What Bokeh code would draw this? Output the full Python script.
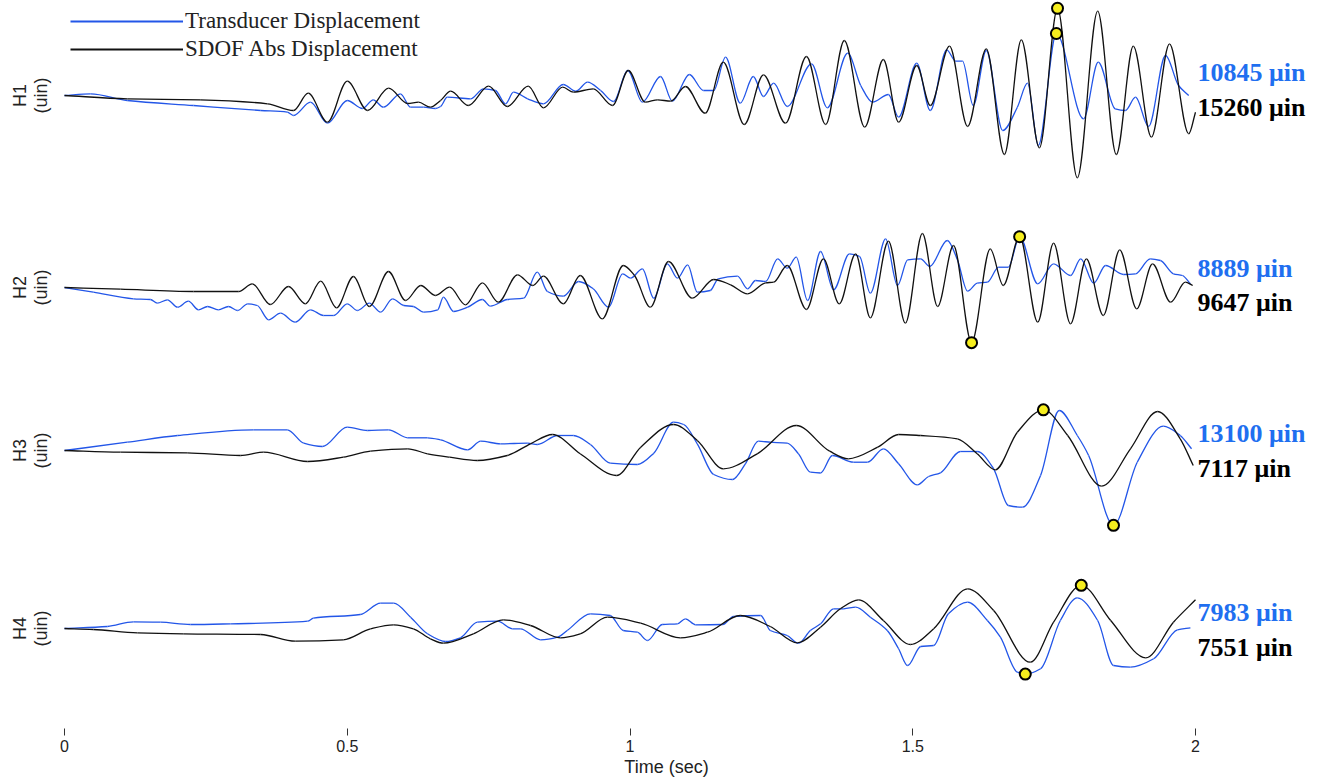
import numpy as np
from bokeh.plotting import figure
from bokeh.models import Range1d, FixedTicker, Legend, LegendItem
from bokeh.core.properties import value
from bokeh.embed import file_html
from bokeh.resources import INLINE

# ---------------- data (time in s, displacement in micro-inch) ----------------
channels = ["H1", "H2", "H3", "H4"]
tick_values = [0, 0.5, 1, 1.5, 2]
tick_labels = ["0", "0.5", "1", "1.5", "2"]

h1_black_t = [0, 0.111, 0.240, 0.359, 0.405, 0.431, 0.465, 0.500, 0.536, 0.573, 0.607, 0.626, 0.647, 0.665, 0.683,
              0.714, 0.750, 0.783, 0.820, 0.847, 0.881, 0.900, 0.935, 0.969, 0.997, 1.027, 1.049, 1.072, 1.098, 1.133,
              1.165, 1.202, 1.236, 1.275, 1.312, 1.346, 1.379, 1.415, 1.448, 1.475, 1.507, 1.531, 1.565, 1.597, 1.630,
              1.662, 1.692, 1.724, 1.756, 1.791, 1.827, 1.860, 1.890, 1.922, 1.954, 1.988, 2.000]
h1_black_v = [0, -580, -750, -1450, -2625, 400, -4670, 2500, -2625, 1280, -1400, -1170, -2050, -875, 750,
              -1750, 1630, -1925, 1630, -2150, 1450, 580, 1170, -1750, 4375, -1170, -750, -1000, 1575, -3100,
              5830, -5075, 3620, -4850, 6825, -5075, 9625, -5550, 6300, -4670, 5250, -1750, 8630, -5425, 8170,
              -10325, 9750, -9150, 15260, -14400, 14750, -10325, 8630, -7300, 9050, -6700, -2920]

h1_blue_t = [0, 0.046, 0.111, 0.228, 0.347, 0.394, 0.405, 0.435, 0.465, 0.500, 0.527, 0.546, 0.564, 0.594, 0.612,
             0.635, 0.656, 0.665, 0.677, 0.718, 0.741, 0.762, 0.780, 0.794, 0.819, 0.847, 0.882, 0.904, 0.925, 0.948,
             0.971, 0.996, 1.022, 1.054, 1.075, 1.105, 1.130, 1.148, 1.169, 1.195, 1.218, 1.236, 1.254, 1.278, 1.321,
             1.349, 1.385, 1.408, 1.429, 1.457, 1.475, 1.507, 1.531, 1.560, 1.576, 1.588, 1.607, 1.630, 1.659, 1.685,
             1.703, 1.722, 1.754, 1.802, 1.828, 1.858, 1.876, 1.894, 1.917, 1.947, 1.970, 1.988]
h1_blue_v = [0, 300, -875, -1750, -2625, -2920, -3500, -1170, -4850, -875, -2275, -750, -2050, 300, -2050,
             -2050, -2275, -1925, -300, -580, 1170, 875, -1450, 580, -580, -1450, 1925, 750, 2330, 875,
             -1050, 4375, -1170, 3325, -1000, 3675, 875, 875, 6700, -1350, 3325, -175, 2150, -1925, 5550,
             -2150, 7400, 1750, -1170, 175, -3800, 5650, -2625, 8000, 6000, 6000, -1750, 7875, -6125, -2050,
             2150, -8750, 10845, -4080, 5830, -2330, -2625, -300, -5425, 7000, 1750, 0]

h2_black_t = [0, 0.099, 0.228, 0.308, 0.332, 0.364, 0.396, 0.426, 0.453, 0.481, 0.511, 0.539, 0.573, 0.603, 0.630,
              0.656, 0.681, 0.709, 0.739, 0.767, 0.801, 0.828, 0.847, 0.882, 0.912, 0.951, 0.988, 1.008, 1.036, 1.068,
              1.110, 1.148, 1.178, 1.208, 1.240, 1.254, 1.278, 1.312, 1.342, 1.370, 1.399, 1.425, 1.457, 1.487, 1.517,
              1.544, 1.572, 1.604, 1.637, 1.660, 1.689, 1.721, 1.749, 1.779, 1.807, 1.837, 1.866, 1.896, 1.924, 1.956,
              1.982, 1.995]
h2_black_v = [0, -300, -700, -700, 650, -2975, 175, -2850, 1100, -3550, 1925, -3325, 2800, -2275, 350,
              -1400, 50, -3030, 825, -2570, 2220, 350, 1980, -2850, 2100, -5480, 3850, 2100, -3450, 4550,
              -1870, 1400, 470, -1100, 825, 930, 3850, -3850, 5020, -2850, 5900, -5300, 8100, -6250, 9450,
              -3325, 7350, -9647, 6770, 350, 8925, -6070, 7750, -6350, 5020, -4900, 6600, -3730, 4150, -2570,
              930, 350]

h2_blue_t = [0, 0.051, 0.122, 0.152, 0.164, 0.182, 0.200, 0.219, 0.237, 0.253, 0.272, 0.290, 0.306, 0.324, 0.341,
             0.361, 0.382, 0.408, 0.435, 0.458, 0.476, 0.500, 0.518, 0.539, 0.559, 0.580, 0.600, 0.617, 0.635, 0.660,
             0.670, 0.688, 0.713, 0.739, 0.753, 0.783, 0.812, 0.836, 0.854, 0.882, 0.909, 0.935, 0.962, 0.987, 1.001,
             1.022, 1.042, 1.066, 1.084, 1.102, 1.119, 1.142, 1.156, 1.190, 1.208, 1.222, 1.240, 1.261, 1.278, 1.294,
             1.314, 1.337, 1.360, 1.388, 1.406, 1.425, 1.452, 1.473, 1.491, 1.514, 1.530, 1.561, 1.579, 1.597, 1.614,
             1.632, 1.652, 1.669, 1.689, 1.721, 1.749, 1.779, 1.797, 1.820, 1.841, 1.873, 1.894, 1.920, 1.938, 1.961,
             1.977, 1.991]
h2_blue_v = [0, -820, -1980, -2100, -2750, -2150, -3450, -2400, -3900, -3325, -3900, -3325, -4025, -2850, -3150,
             -5650, -4500, -6070, -3900, -4900, -4900, -2850, -4025, -2750, -4320, -1980, -3150, -3325, -4320, -3900,
             -1700, -4200, -3450, -2100, -3270, -2100, -1870, 2680, -700, -1520, 1050, -230, -3450, 2400, 1630,
             3270, -1870, 4150, 1630, 3970, -820, -525, 1520, 1980, -230, 1225, 1050, 5020, 3380, 5300,
             -2275, 6300, -400, 5900, 5425, -1000, 8520, 350, 4850, 5020, 3675, 8225, 4850, -650, 750,
             930, 3550, 3550, 8889, 650, 4150, 2100, 5020, 750, 3850, 2275, 2400, 5020, 4725, 2400,
             2100, 650]

h3_black_t = [0, 0.099, 0.217, 0.311, 0.352, 0.430, 0.493, 0.541, 0.607, 0.642, 0.681, 0.730, 0.783, 0.824, 0.863,
              0.912, 0.976, 1.019, 1.077, 1.119, 1.165, 1.225, 1.294, 1.353, 1.386, 1.438, 1.475, 1.514, 1.579, 1.614,
              1.646, 1.685, 1.731, 1.774, 1.834, 1.885, 1.933, 1.973, 1.996]
h3_black_v = [0, -300, -400, -875, -300, -1925, -1170, -120, 300, -580, -1170, -1750, -875, 1170, 2800,
              -580, -4375, 580, 4550, 1750, -3200, -580, 4375, -120, -1450, 580, 2800, 2625, 2050, -580,
              -3380, 3200, 7117, 2625, -6250, 300, 6825, 2050, -2625]

h3_blue_t = [0, 0.111, 0.200, 0.334, 0.394, 0.423, 0.456, 0.500, 0.536, 0.573, 0.607, 0.642, 0.665, 0.713, 0.736,
             0.771, 0.819, 0.836, 0.872, 0.900, 0.930, 0.965, 1.013, 1.042, 1.077, 1.095, 1.119, 1.148, 1.181, 1.204,
             1.227, 1.248, 1.278, 1.298, 1.319, 1.337, 1.358, 1.395, 1.420, 1.448, 1.475, 1.508, 1.528, 1.549, 1.584,
             1.614, 1.643, 1.669, 1.694, 1.726, 1.759, 1.791, 1.811, 1.855, 1.897, 1.943, 1.973, 1.993]
h3_blue_v = [0, 1450, 2625, 3620, 3620, 1280, 700, 4080, 3500, 3620, 2220, 2220, 1870, 120, 1630,
             1170, 1280, 1050, 2625, 2625, 1050, -2220, -2450, -470, 4950, 4550, 1170, -4200, -5075, -2330,
             1630, 1450, 1280, -580, -3800, -3940, -875, -2050, -2050, 300, -2330, -6000, -4550, -3900, -175,
             -175, -3200, -9625, -9920, -4375, 7000, 2625, -875, -13100, -2050, 4250, 2625, 300]

h4_black_t = [0, 0.051, 0.129, 0.210, 0.347, 0.408, 0.493, 0.541, 0.582, 0.617, 0.647, 0.670, 0.723, 0.776, 0.824,
              0.877, 0.912, 0.960, 1.019, 1.089, 1.137, 1.195, 1.248, 1.296, 1.337, 1.372, 1.404, 1.448, 1.496, 1.537,
              1.597, 1.643, 1.708, 1.749, 1.798, 1.850, 1.912, 1.961, 2.000]
h4_black_v = [0, -175, -750, -930, -1050, -2220, -1980, -50, 650, -50, -1800, -2570, -930, 1520, 525,
              -1630, -930, 1980, 930, -1630, -650, 2275, 350, -2500, 230, 3450, 5020, 1400, -2800, -50,
              6950, 3150, -5900, 1100, 7551, 1400, -5130, 1100, 5020]

h4_blue_t = [0, 0.076, 0.122, 0.170, 0.223, 0.294, 0.430, 0.440, 0.523, 0.559, 0.582, 0.612, 0.642, 0.674, 0.700,
             0.730, 0.766, 0.792, 0.806, 0.842, 0.872, 0.889, 0.930, 0.965, 0.988, 1.013, 1.031, 1.057, 1.084, 1.098,
             1.116, 1.164, 1.183, 1.231, 1.248, 1.278, 1.298, 1.319, 1.337, 1.360, 1.378, 1.399, 1.425, 1.455, 1.475,
             1.491, 1.514, 1.537, 1.563, 1.597, 1.632, 1.655, 1.685, 1.699, 1.726, 1.761, 1.791, 1.827, 1.855, 1.885,
             1.926, 1.968, 1.991]
h4_blue_v = [0, 350, 1170, 1100, 700, 820, 1280, 1800, 2450, 4430, 4430, 1980, -930, -2275, -1630,
             1100, 1280, -50, -50, -1980, -1520, -350, 2570, 2275, -350, -650, -2100, 700, 820, 1700,
             650, 700, 2100, 2275, -350, -1225, -2570, -350, 820, 3450, 3450, 3730, 1980, -350, -3550,
             -6475, -3150, -2975, 2570, 4600, 1400, -1520, -7650, -7983, -7050, 1400, 5370, 1400, -6475, -6770,
             -5300, -230, 120]

peak_blue = [10845, 8889, 13100, 7983]
peak_black = [15260, 9647, 7117, 7551]

# ---------------- layout / style ----------------
BLUE = "#2356e8"
BLUE_TXT = "#1f6ff0"
BLACK = "#111111"
SCALE = 175.0                       # micro-inch per pixel
zero_px = [95, 287, 450, 628]       # vertical position of each channel's zero line
label_up = [23, 19, 17, 16]         # blue value label, pixels above zero line
label_dn = [12, 15, 18, 19]         # black value label, pixels below zero line
offsets = [-z * SCALE for z in zero_px]
PX = 1 / 565.5                      # seconds per pixel
X0 = -64 * PX

blue_t = [h1_blue_t, h2_blue_t, h3_blue_t, h4_blue_t]
blue_v = [h1_blue_v, h2_blue_v, h3_blue_v, h4_blue_v]
black_t = [h1_black_t, h2_black_t, h3_black_t, h4_black_t]
black_v = [h1_black_v, h2_black_v, h3_black_v, h4_black_v]


def smooth_curve(t, v):
    """Shape-preserving cubic (PCHIP style) drawn as Bezier pieces between the data points."""
    t = np.asarray(t, float); v = np.asarray(v, float)
    h = np.diff(t); d = np.diff(v) / h
    n = len(t)
    s = np.zeros(n)
    s[0], s[-1] = d[0], d[-1]
    for i in range(1, n - 1):
        if d[i - 1] * d[i] > 0:
            w1 = 2 * h[i] + h[i - 1]
            w2 = h[i] + 2 * h[i - 1]
            s[i] = (w1 + w2) / (w1 / d[i - 1] + w2 / d[i])
    return dict(x0=t[:-1], y0=v[:-1], x1=t[1:], y1=v[1:],
                cx0=t[:-1] + h / 3, cy0=v[:-1] + s[:-1] * h / 3,
                cx1=t[1:] - h / 3, cy1=v[1:] - s[1:] * h / 3)


p = figure(width=1332, height=784, output_backend="svg", toolbar_location=None,
           x_range=Range1d(X0, X0 + 1332 * PX), y_range=Range1d(-728 * SCALE, 0),
           y_axis_location=None, min_border_left=0, min_border_right=0,
           min_border_top=0, min_border_bottom=56)
p.grid.visible = False
p.outline_line_color = None

for i, ch in enumerate(channels):
    off = offsets[i]
    bt = np.array(blue_t[i]); bv = np.array(blue_v[i], dtype=float)
    kt = np.array(black_t[i]); kv = np.array(black_v[i], dtype=float)
    p.bezier(source=smooth_curve(bt, bv + off), x0="x0", y0="y0", x1="x1", y1="y1",
             cx0="cx0", cy0="cy0", cx1="cx1", cy1="cy1", line_color=BLUE, line_width=1.3)
    p.bezier(source=smooth_curve(kt, kv + off), x0="x0", y0="y0", x1="x1", y1="y1",
             cx0="cx0", cy0="cy0", cx1="cx1", cy1="cy1", line_color=BLACK, line_width=1.3)
    ib = int(np.argmax(np.abs(bv)))
    ik = int(np.argmax(np.abs(kv)))
    p.scatter([bt[ib], kt[ik]], [bv[ib] + off, kv[ik] + off], size=11,
              fill_color="#f6ee1e", line_color="black", line_width=2)
    # channel label
    p.text([-45 * PX], [off], text=[ch], angle=np.pi / 2, text_align="center",
           text_baseline="middle", text_font=value("Liberation Sans"),
           text_font_size="18px", text_color="#222222")
    p.text([-24 * PX], [off], text=["(uin)"], angle=np.pi / 2, text_align="center",
           text_baseline="middle", text_font=value("Liberation Sans"),
           text_font_size="18px", text_color="#222222")
    # peak values
    p.text([2.0 + 2 * PX], [off + label_up[i] * SCALE], text=[f"{peak_blue[i]} \u03bcin"],
           text_align="left", text_baseline="middle", text_font=value("Liberation Serif"),
           text_font_style="bold", text_font_size="26px", text_color=BLUE_TXT)
    p.text([2.0 + 2 * PX], [off - label_dn[i] * SCALE], text=[f"{peak_black[i]} \u03bcin"],
           text_align="left", text_baseline="middle", text_font=value("Liberation Serif"),
           text_font_style="bold", text_font_size="26px", text_color="black")

# legend-only line renderers (single NaN point: nothing drawn in the plot area)
lg_blue = p.line([np.nan], [np.nan], line_color=BLUE, line_width=2)
lg_black = p.line([np.nan], [np.nan], line_color=BLACK, line_width=2)
legend = Legend(items=[LegendItem(label="Transducer Displacement", renderers=[lg_blue]),
                       LegendItem(label="SDOF Abs Displacement", renderers=[lg_black])],
                location=(70, 666), glyph_width=113, glyph_height=22, label_standoff=2,
                spacing=2, padding=0, margin=0, border_line_alpha=0, background_fill_alpha=0,
                label_text_font="Liberation Serif", label_text_font_size="23px",
                label_text_color="#222222")
p.add_layout(legend)

ax = p.xaxis[0]
ax.ticker = FixedTicker(ticks=tick_values)
ax.major_label_overrides = {float(v): l for v, l in zip(tick_values, tick_labels)}
ax.major_label_overrides.update({int(v): l for v, l in zip(tick_values, tick_labels) if float(v).is_integer()})
ax.minor_tick_line_color = None
ax.axis_line_color = None
ax.major_tick_in = 0
ax.major_tick_out = 7
ax.major_tick_line_color = "#333333"
ax.major_label_standoff = 4
ax.major_label_text_font = "Liberation Sans"
ax.major_label_text_font_size = "16px"
ax.major_label_text_color = "#222222"
ax.axis_label = "Time (sec)"
ax.axis_label_standoff = 2
ax.axis_label_text_font = "Liberation Sans"
ax.axis_label_text_font_size = "18px"
ax.axis_label_text_font_style = "normal"
ax.axis_label_text_color = "#222222"

open("out.html", "w").write(file_html(p, INLINE))
